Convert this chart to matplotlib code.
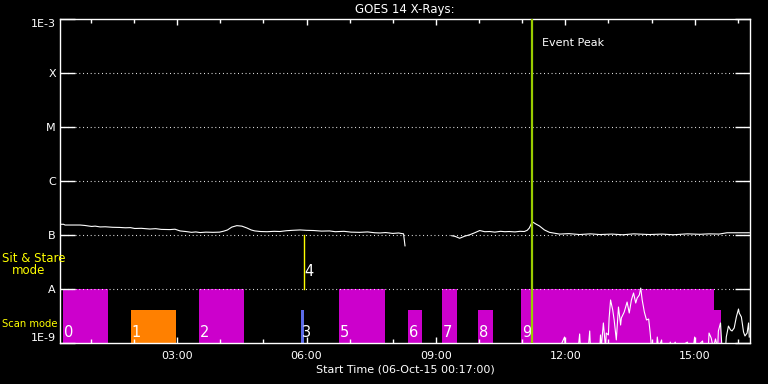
import numpy as np
import matplotlib
matplotlib.use('Agg')
import matplotlib.pyplot as plt

# GOES 14 long channel (1-8 A), minutes after 00:00 on 06-Oct-15
long_min = [17, 22, 24, 35, 45, 52, 61, 66, 73, 80, 90, 100, 108, 115, 121, 130,
            142, 150, 158, 170, 177, 184, 192, 200, 206, 212, 220, 230, 239, 245,
            250, 256, 263, 270, 277, 283, 288, 296, 305, 315, 323, 332, 340, 351,
            360, 370, 381, 392, 400, 412, 422, 434, 445, 455, 462, 470, 480, 488,
            495, 497, 530,
            562, 567, 573, 580, 587, 594, 601, 608, 615, 622, 630, 636, 642, 650,
            657, 663, 667, 670, 674, 679, 684, 691, 698, 705, 712, 725, 740, 755,
            768, 785, 800, 815, 837, 855, 870, 890, 907, 920, 934, 945, 960, 976]
long_flux = [1.58e-7, 1.58e-7, 1.53e-7, 1.53e-7, 1.53e-7, 1.50e-7, 1.44e-7, 1.46e-7,
             1.41e-7, 1.42e-7, 1.39e-7, 1.38e-7, 1.36e-7, 1.37e-7, 1.32e-7, 1.33e-7,
             1.29e-7, 1.31e-7, 1.27e-7, 1.26e-7, 1.28e-7, 1.19e-7, 1.16e-7, 1.12e-7,
             1.14e-7, 1.11e-7, 1.13e-7, 1.12e-7, 1.13e-7, 1.18e-7, 1.24e-7, 1.40e-7,
             1.49e-7, 1.46e-7, 1.35e-7, 1.24e-7, 1.19e-7, 1.16e-7, 1.15e-7, 1.17e-7,
             1.16e-7, 1.20e-7, 1.22e-7, 1.24e-7, 1.22e-7, 1.21e-7, 1.18e-7, 1.19e-7,
             1.15e-7, 1.17e-7, 1.13e-7, 1.12e-7, 1.14e-7, 1.10e-7, 1.09e-7, 1.11e-7,
             1.07e-7, 1.09e-7, 1.05e-7, 6.3e-8, np.nan,
             9.7e-8, 9.4e-8, 8.7e-8, 9.5e-8, 1.01e-7, 1.10e-7, 1.21e-7, 1.15e-7,
             1.16e-7, 1.13e-7, 1.17e-7, 1.15e-7, 1.16e-7, 1.14e-7, 1.17e-7, 1.16e-7,
             1.22e-7, 1.35e-7, 1.76e-7, 1.60e-7, 1.47e-7, 1.24e-7, 1.12e-7, 1.08e-7,
             1.04e-7, 1.06e-7, 1.02e-7, 1.05e-7, 1.02e-7, 1.04e-7, 1.01e-7, 1.05e-7,
             1.02e-7, 1.04e-7, 1.01e-7, 1.05e-7, 1.03e-7, 1.05e-7, 1.04e-7, 1.10e-7,
             1.10e-7, 1.10e-7]

# short channel (0.5-4 A), mostly below 1E-9
short_min = [712, 719, 720, 738, 740, 741, 752, 754, 755, 768, 769, 770, 773, 776,
             777, 780, 781, 783, 786, 788, 791, 794, 797, 798, 802, 806, 809, 812,
             815, 818, 820, 823, 825, 827, 830, 833, 836, 838, 840, 847, 848, 850,
             854, 855, 865, 866, 868, 873, 875, 890, 891, 898, 900, 901, 911, 912,
             919, 920, 923, 926, 929, 932, 933, 936, 938, 943, 944, 947, 950, 952,
             955, 958, 961, 962, 965, 968, 970, 973, 975, 976]
short_flux = [8e-10, 1.29e-9, 8e-10, 8e-10, 1.47e-9, 8e-10, 8e-10, 1.67e-9, 8e-10,
              8e-10, 1.41e-9, 8e-10, 2.35e-9, 8e-10, 1.53e-9, 1.41e-9, 2.90e-9,
              6.26e-9, 4.08e-9, 2.67e-9, 1.14e-9, 4.64e-9, 2.15e-9, 2.90e-9, 3.75e-9,
              5.74e-9, 3.59e-9, 6.26e-9, 8.43e-9, 5.50e-9, 6.81e-9, 7.74e-9, 1.04e-8,
              6.26e-9, 3.75e-9, 2.67e-9, 2.78e-9, 1.60e-9, 8e-10, 8e-10, 1.29e-9,
              8e-10, 1.14e-9, 8e-10, 8e-10, 1.04e-9, 8e-10, 1.04e-9, 8e-10, 1.04e-9,
              8e-10, 8e-10, 1.29e-9, 8e-10, 1.09e-9, 8e-10, 8e-10, 1.53e-9, 1.24e-9,
              8e-10, 1.19e-9, 8e-10, 1.67e-9, 2.35e-9, 8e-10, 8e-10, 1.29e-9, 2.06e-9,
              1.74e-9, 1.67e-9, 1.90e-9, 3.03e-9, 4.26e-9, 3.59e-9, 3.03e-9, 1.60e-9,
              1.35e-9, 1.53e-9, 2.35e-9, 1.29e-9]

# observation blocks (minutes), top of block, colour and label
obs_start = [21, 116, 210, 352, 405, 501, 549, 599, 659, 927]
obs_end = [84, 178, 273, 356, 469, 520, 569, 619, 927, 936]
obs_top = [1e-8, 4e-9, 1e-8, 4e-9, 1e-8, 4e-9, 1e-8, 4e-9, 1e-8, 4e-9]
obs_color = ['#cc00cc', '#ff8000', '#cc00cc', '#5b6be8', '#cc00cc', '#cc00cc',
             '#cc00cc', '#cc00cc', '#cc00cc', '#cc00cc']
obs_label = ['0', '1', '2', '3', '5', '6', '7', '8', '9', '']

sitstare_min = 356
sitstare_label = '4'
peak_min = 673

y_ticks = [1e-9, 1e-8, 1e-7, 1e-6, 1e-5, 1e-4, 1e-3]
y_labels = ['1E-9', 'A', 'B', 'C', 'M', 'X', '1E-3']
x_major = [180, 360, 540, 720, 900]
x_labels = ['03:00', '06:00', '09:00', '12:00', '15:00']
x_minor = [60, 120, 240, 300, 420, 480, 600, 660, 780, 840, 960]

plt.rcParams['font.family'] = ['DejaVu Sans']
fig = plt.figure(figsize=(7.68, 3.84), dpi=100, facecolor='black')
ax = fig.add_axes([60/768, 41/384, 690/768, 324/384], facecolor='black')

ax.set_yscale('log')
ax.set_ylim(1e-9, 1e-3)
ax.set_xlim(17, 977)

for s, e, t, c in zip(obs_start, obs_end, obs_top, obs_color):
    ax.bar(s, t - 1e-9, width=e - s, bottom=1e-9, align='edge', color=c, zorder=1)
for s, t in zip(obs_start, obs_label):
    if t:
        ax.text(s + 1, 1.55e-9, t, color='white', fontsize=10.5, ha='left', va='center', zorder=5)

ax.plot([sitstare_min, sitstare_min], [1e-8, 1e-7], color='yellow', lw=1, zorder=3)
ax.text(sitstare_min + 1, 2.07e-8, sitstare_label, color='white', fontsize=10.5, ha='left', va='center')

for lev in y_ticks[1:-1]:
    ax.axhline(lev, color='white', lw=0.8, ls=(0, (0.8, 2.6)), zorder=2)

ax.plot(long_min, long_flux, color='white', lw=0.8, zorder=4)
ax.plot(short_min, short_flux, color='white', lw=0.8, zorder=4)

ax.axvline(peak_min, color='#99cc00', lw=1.6, zorder=5)
ax.text(peak_min + 14, 3.6e-4, 'Event Peak', color='white', fontsize=8, ha='left', va='center')

for sp in ax.spines.values():
    sp.set_color('white')
    sp.set_linewidth(1)

ax.set_yticks(y_ticks)
ax.set_yticklabels(y_labels)
ax.yaxis.set_minor_locator(matplotlib.ticker.NullLocator())
ax.set_xticks(x_major)
ax.set_xticklabels(x_labels)
ax.set_xticks(x_minor, minor=True)
ax.tick_params(axis='y', which='major', direction='in', length=11, width=1, colors='white',
               left=True, right=True, labelsize=8, pad=3)
ax.tick_params(axis='x', which='major', direction='in', length=4.5, width=1, colors='white',
               top=True, bottom=True, labelsize=8, pad=6)
ax.tick_params(axis='x', which='minor', direction='in', length=3, width=1, colors='white',
               top=True, bottom=True)
ylabs = ax.get_yticklabels()
ylabs[0].set_va('bottom')
ylabs[-1].set_va('top')

ax.set_title('GOES 14 X-Rays:', color='white', fontsize=8.5, pad=4)
ax.set_xlabel('Start Time (06-Oct-15 00:17:00)', color='white', fontsize=8, labelpad=2)

fig.text(2/768, 1 - 259/384, 'Sit & Stare', color='yellow', fontsize=8.5, va='center', ha='left')
fig.text(12/768, 1 - 271/384, 'mode', color='yellow', fontsize=8.5, va='center', ha='left')
fig.text(2/768, 1 - 324/384, 'Scan mode', color='yellow', fontsize=7.2, va='center', ha='left')

fig.savefig('out.png', dpi=100, facecolor='black')
